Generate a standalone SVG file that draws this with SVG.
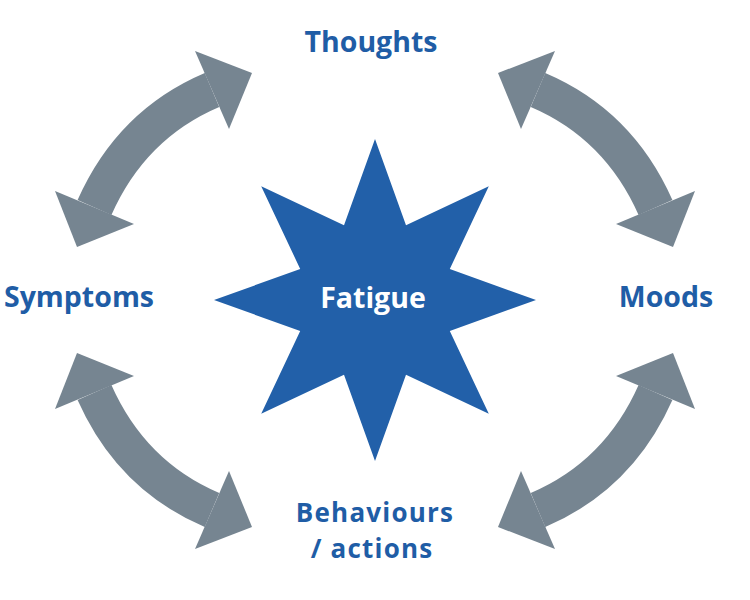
<svg xmlns="http://www.w3.org/2000/svg" xmlns:xlink="http://www.w3.org/1999/xlink" width="750" height="600" viewBox="0 0 750 600">
  <style>
    .lbl { font-family: "Open Sans", "Liberation Sans", sans-serif; font-weight: 700; font-size: 28.5px; fill: #1F5DA6; text-anchor: middle; }
    .lbl2 { font-family: "Open Sans", "Liberation Sans", sans-serif; font-weight: 700; font-size: 26px; letter-spacing: 1.2px; fill: #1F5DA6; text-anchor: middle; }
    .ctr { font-family: "Open Sans", "Liberation Sans", sans-serif; font-weight: 700; font-size: 28.5px; fill: #FFFFFF; text-anchor: middle; }
    .shaft { fill: none; stroke: #768591; stroke-width: 37; stroke-linecap: butt; }
    .head { fill: #768591; }
  </style>
  <defs>
    <g id="dblArrow">
      <path class="shaft" d="M212,90 Q131.4,124.3 94.5,207.5"/>
      <polygon class="head" points="252,73 195,51 229,129"/>
      <polygon class="head" points="77,247 55,191 134,224"/>
    </g>
  </defs>
  <rect width="750" height="600" fill="#FFFFFF"/>
  <g id="connectors">
    <use id="arrow-symptoms-thoughts" xlink:href="#dblArrow"/>
    <use id="arrow-thoughts-moods" xlink:href="#dblArrow" transform="translate(750,0) scale(-1,1)"/>
    <use id="arrow-symptoms-behaviours" xlink:href="#dblArrow" transform="translate(0,600) scale(1,-1)"/>
    <use id="arrow-moods-behaviours" xlink:href="#dblArrow" transform="translate(750,600) scale(-1,-1)"/>
  </g>
  <g id="fatigue">
    <polygon fill="#2260A9" points="375,139 406,225.2 488.8,186.2 449.8,269 536,300 449.8,331 488.8,413.8 406,374.8 375,461 344,374.8 261.2,413.8 300.2,331 214,300 300.2,269 261.2,186.2 344,225.2"/>
    <text class="ctr" x="373" y="308">Fatigue</text>
  </g>
  <g id="thoughts">
    <text class="lbl" x="371" y="52">Thoughts</text>
  </g>
  <g id="symptoms">
    <text class="lbl" x="79" y="307">Symptoms</text>
  </g>
  <g id="moods">
    <text class="lbl" x="666" y="307">Moods</text>
  </g>
  <g id="behaviours">
    <text class="lbl2" x="375" y="522">Behaviours</text>
    <text class="lbl2" x="372" y="558">/ actions</text>
  </g>
</svg>
